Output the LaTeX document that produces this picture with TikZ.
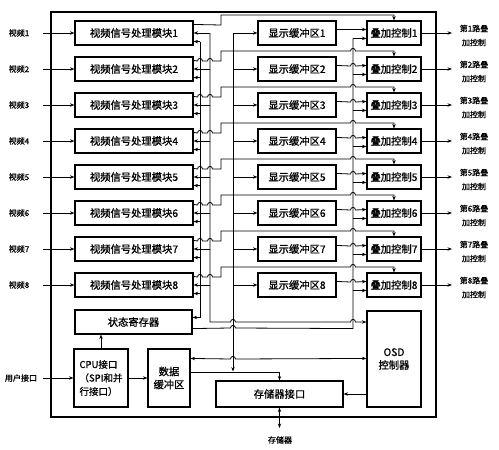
\documentclass[tikz,border=0pt]{standalone}
\usepackage{fontspec}
\newfontfamily\cjk[FakeBold=0.9]{Noto Sans CJK SC}
\usetikzlibrary{arrows.meta,calc}
\begin{document}
\begin{tikzpicture}[x=1pt,y=-1pt,
  box/.style={draw,line width=1.1pt,inner sep=0pt,font=\cjk\fontsize{10.3}{13}\selectfont},
  lbl/.style={font=\cjk\fontsize{8}{14}\selectfont,inner sep=0pt,align=center},
  ln/.style={line width=0.8pt},
  ar/.style={ln,-{Stealth[length=4.5pt,width=3.4pt]}},
  dar/.style={ln,{Stealth[length=4.5pt,width=3.4pt]}-{Stealth[length=4.5pt,width=3.4pt]}}]
\useasboundingbox (0,0) rectangle (499,450);
\node[draw,line width=1.1pt,minimum width=385pt,minimum height=405pt,inner sep=0pt] (frame) at (243.5,214.5) {};
\coordinate (busA) at (210,0);
\coordinate (busB) at (200,0);
\coordinate (busC) at (233,0);
\coordinate (busD) at (353,0);

\foreach \k in {1,...,8}{
  \pgfmathsetmacro\T{21+36*(\k-1)}
  \pgfmathsetmacro\yo{\T+4}
  \pgfmathsetmacro\yt{\T-6}
  \pgfmathsetmacro\yd{\T+9}
  \node[box,minimum width=118pt,minimum height=24pt] (v\k) at (134,\T+12) {视频信号处理模块\k};
  \node[box,minimum width=78pt,minimum height=24pt] (d\k) at (297,\T+12) {显示缓冲区\k};
  \node[box,minimum width=54pt,minimum height=24pt] (o\k) at (394,\T+12) {叠加控制\k};
  \node[lbl] (lv\k) at (19,\T+12) {视频\k};
  \node[lbl] (lo\k) at (474,\T+14.5) {第\k{}路叠\\加控制};
  \coordinate (in\k) at (43,\T+12);
  \coordinate (out\k) at (452,\T+12);
  \coordinate (vb\k) at ($(v\k.south east)+(0,-4)$);
  \coordinate (ob\k) at ($(o\k.north west)+(0,18)$);
  \draw[ar] (in\k) -- (v\k.west);
  \draw[ar] (o\k.east) -- (out\k);
  \draw[ar] (busA |- v\k.east) -- (v\k.east);
  \draw[ar] (busB |- vb\k) -- (vb\k);
  \draw[ar] (busC |- d\k.west) -- (d\k.west);
  \draw[ar] (busD |- ob\k) -- (ob\k);
  \ifnum\k=1
    \draw[ar] ($(v\k.north east)+(0,4)$) -- (221,\yo) -- (221,\yt) -| (o\k.north);
    \draw[ar] ($(d\k.north east)+(0,9)$) -- ($(o\k.north west)+(0,9)$);
  \else
    \draw[ar] ($(v\k.north east)+(0,4)$) -- (197.5,\yo) .. controls (197.5,\yo-3.4) and (202.5,\yo-3.4) .. (202.5,\yo) -- (207.5,\yo) .. controls (207.5,\yo-3.4) and (212.5,\yo-3.4) .. (212.5,\yo) -- (221,\yo) -- (221,\yt) -- (350.5,\yt) .. controls (350.5,\yt-3.4) and (355.5,\yt-3.4) .. (355.5,\yt) -| (o\k.north);
    \draw[ar] ($(d\k.north east)+(0,9)$) -- (350.5,\yd) .. controls (350.5,\yd-3.4) and (355.5,\yd-3.4) .. (355.5,\yd) -- ($(o\k.north west)+(0,9)$);
  \fi
}

\node[box,minimum width=117pt,minimum height=24pt] (sr) at (133.5,322) {状态寄存器};
\node[box,minimum width=54pt,minimum height=58pt,align=left,font=\cjk\fontsize{9.5}{13.5}\selectfont] (cpu) at (101,378) {CPU接口\\（SPI和并\\行接口）};
\node[box,minimum width=42pt,minimum height=58pt,align=center] (db) at (169,378) {数据\\缓冲区};
\node[box,minimum width=54pt,minimum height=96pt,align=center] (osd) at (394,359) {OSD\\控制器};
\node[box,minimum width=127pt,minimum height=26pt] (mi) at (279.5,394) {存储器接口};
\node[lbl] (user) at (21,378) {用户接口};
\node[lbl] (mem) at (280,440) {存储器};
\coordinate (uin) at (43,378);
\coordinate (memend) at (279.5,428);
\coordinate (aEnd) at (210,322);
\coordinate (srin) at ($(sr.north east)+(0,8)$);
\coordinate (srout) at ($(sr.south east)+(0,-6)$);
\coordinate (cEnd) at (233,371.5);
\coordinate (dbout) at ($(db.south east)+(0,-35)$);
\coordinate (dbo) at ($(db.north east)+(0,10)$);

\draw[ar] (uin) -- (cpu.west);
\draw[ar] (cpu.east) -- (db.west);
\draw[ar] (cpu.north) -- (cpu.north |- sr.south);
\draw[ar] (busA |- v1.east) -- (aEnd) -- (230.5,322) .. controls (230.5,318.6) and (235.5,318.6) .. (235.5,322) -- (350.5,322) .. controls (350.5,318.6) and (355.5,318.6) .. (355.5,322) -- (osd.west |- aEnd);
\draw[ar] (busB |- vb1) -- (busB |- srin) -- (srin);
\draw[ln] (srout) -- (230.5,328) .. controls (230.5,324.6) and (235.5,324.6) .. (235.5,328) -- (busD |- srout) -- (busD |- ob1);
\draw[ar] (busC |- d1.west) -- (cEnd);
\draw[ar] (dbout) -| (mi.north);
\draw[dar] (dbo) -- (230.5,359) .. controls (230.5,355.6) and (235.5,355.6) .. (235.5,359) -- (osd.west |- dbo);
\draw[ar] (mi.east -| osd.west) -- (mi.east);
\draw[dar] (mi.south) -- (memend);
\end{tikzpicture}
\end{document}
